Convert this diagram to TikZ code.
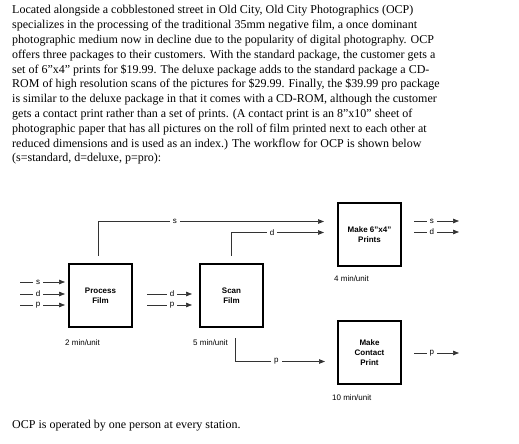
\documentclass[tikz,border=0pt]{standalone}
\usepackage{fontspec}
\setmainfont{Liberation Serif}
\setsansfont{Liberation Sans}
\usetikzlibrary{arrows.meta, positioning}

\begin{document}
\begin{tikzpicture}[
    x=1bp, y=-1bp,
    node distance=68bp,
    station/.style={rectangle, draw, line width=1.2bp, outer sep=0pt, minimum width=63bp, minimum height=63bp, align=center, font=\sffamily\bfseries\fontsize{8bp}{10bp}\selectfont},
    rate/.style={font=\sffamily\fontsize{8bp}{10bp}\selectfont, inner sep=0pt, anchor=west},
    tag/.style={fill=white, font=\sffamily\fontsize{8bp}{10bp}\selectfont, inner xsep=3bp, inner ysep=0.5bp},
    flow/.style={-{Triangle[length=6bp, width=4.5bp]}, draw=black!80, line width=0.7bp},
    prose/.style={font=\fontsize{12bp}{14.8bp}\selectfont, align=left, inner sep=0pt}
]
\useasboundingbox (0,0) rectangle (519,444);

\node[prose, anchor=base west] (intro) at (12,162) {Located alongside a cobblestoned street in Old City, Old City Photographics (OCP)\\
specializes in the processing of the traditional 35mm negative film, a once dominant\\
photographic medium now in decline due to the popularity of digital photography. OCP\\
offers three packages to their customers. With the standard package, the customer gets a\\
set of 6”x4” prints for \$19.99. The deluxe package adds to the standard package a CD-\\
ROM of high resolution scans of the pictures for \$29.99. Finally, the \$39.99 pro package\\
is similar to the deluxe package in that it comes with a CD-ROM, although the customer\\
gets a contact print rather than a set of prints. (A contact print is an 8”x10” sheet of\\
photographic paper that has all pictures on the roll of film printed next to each other at\\
reduced dimensions and is used as an index.) The workflow for OCP is shown below\\
(s=standard, d=deluxe, p=pro):};

\node[station] (process) at (100.5,295.5) {Process\\Film};
\node[station, right=68bp of process] (scan) {Scan\\Film};
\node[station, above right=-2bp and 75bp of scan] (prints) {Make 6”x4”\\Prints};
\node[station, below=55bp of prints] (contact) {Make\\Contact\\Print};

\node[rate] (rateprocess) at ([xshift=-4bp, yshift=-16bp]process.south west) {2 min/unit};
\node[rate] (ratescan) at ([xshift=-7bp, yshift=-16bp]scan.south west) {5 min/unit};
\node[rate] (rateprints) at ([xshift=-4bp, yshift=-13bp]prints.south west) {4 min/unit};
\node[rate] (ratecontact) at ([xshift=-6bp, yshift=-14bp]contact.south west) {10 min/unit};

% orders coming in
\coordinate (inS) at (20,282);
\coordinate (inD) at (20,294);
\coordinate (inP) at (20,305);
\draw[flow, shorten >=4bp] (inS) -- node[tag, pos=0.37] {s} (inS -| process.west);
\draw[flow, shorten >=4bp] (inD) -- node[tag, pos=0.37] {d} (inD -| process.west);
\draw[flow, shorten >=4bp] (inP) -- node[tag, pos=0.37] {p} (inP -| process.west);

% process -> scan
\draw[flow, shorten <=15bp, shorten >=8bp] ([yshift=1.5bp]process.east) -- node[tag, pos=0.59] {d} ([yshift=1.5bp]scan.west);
\draw[flow, shorten <=15bp, shorten >=8bp] ([yshift=-9.5bp]process.east) -- node[tag, pos=0.59] {p} ([yshift=-9.5bp]scan.west);

% routes to the print stations
\draw[flow] ([xshift=-2.5bp, yshift=8bp]process.north) |- node[tag, pos=0.67] {s} ([xshift=-14bp, yshift=13bp]prints.west);
\draw[flow] ([yshift=8bp]scan.north) |- node[tag, pos=0.72] {d} ([xshift=-14bp, yshift=2bp]prints.west);
\draw[flow] ([xshift=3.5bp, yshift=-11bp]scan.south) |- node[tag, pos=0.73] {p} ([xshift=-13bp, yshift=-9bp]contact.west);

% finished orders
\coordinate (outS) at (459,221);
\coordinate (outD) at (459,232);
\coordinate (outP) at (459,353);
\draw[flow, shorten <=13bp] (prints.east |- outS) -- node[tag, pos=0.53] {s} (outS);
\draw[flow, shorten <=13bp] (prints.east |- outD) -- node[tag, pos=0.53] {d} (outD);
\draw[flow, shorten <=13bp] (contact.east |- outP) -- node[tag, pos=0.53] {p} (outP);

\node[prose, anchor=base west] (outro) at (12,428) {OCP is operated by one person at every station.};

\end{tikzpicture}
\end{document}
